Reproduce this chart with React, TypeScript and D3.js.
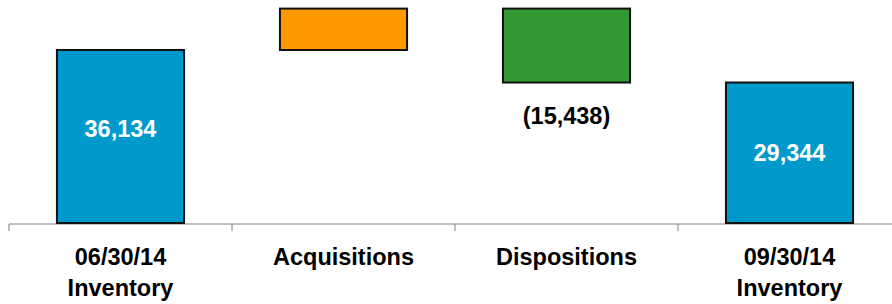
import React, { useEffect, useRef } from "react";
import * as d3 from "d3";

const categories = ["06/30/14|Inventory", "Acquisitions", "Dispositions", "09/30/14|Inventory"];
const values = [36134, 8648, -15438, 29344];
const kinds = ["total", "delta", "delta", "total"];
const valueLabels = ["36,134", "", "(15,438)", "29,344"];

const WIDTH = 892;
const HEIGHT = 304;

function drawWaterfall(svgEl: SVGSVGElement) {
    const svg = d3.select(svgEl);
    svg.selectAll("*").remove();

    const baseY = 223;
    const font = "'Liberation Sans', Arial, sans-serif";

    const x = d3.scaleBand<string>()
        .domain(categories)
        .range([9, 901])
        .padding(0);

    const y = d3.scaleLinear()
        .domain([0, 36134])
        .range([baseY, 50]);

    // running total for floating bars
    let running = 0;
    const bars = categories.map((c, i) => {
        let lo, hi;
        if (kinds[i] === "total") {
            lo = 0; hi = values[i]; running = values[i];
        } else {
            const next = running + values[i];
            lo = Math.min(running, next); hi = Math.max(running, next);
            running = next;
        }
        return { cat: c, lo, hi, i };
    });

    const colors = ["#0099cc", "#ff9900", "#339933", "#0099cc"];
    const barW = x.bandwidth() * 0.57;

    // axis line + ticks
    const axis = svg.append("g");
    axis.append("line")
        .attr("x1", 9).attr("x2", WIDTH)
        .attr("y1", baseY + 1).attr("y2", baseY + 1)
        .attr("stroke", "#808080").attr("stroke-width", 1);
    axis.selectAll(".tick")
        .data(categories)
        .enter().append("line")
        .attr("x1", d => x(d)!).attr("x2", d => x(d)!)
        .attr("y1", baseY + 1).attr("y2", baseY + 8)
        .attr("stroke", "#808080").attr("stroke-width", 1);

    svg.selectAll(".bar")
        .data(bars)
        .enter().append("rect")
        .attr("class", "bar")
        .attr("x", d => x(d.cat)! + (x.bandwidth() - barW) / 2)
        .attr("width", barW)
        .attr("y", d => y(d.hi))
        .attr("height", d => y(d.lo) - y(d.hi))
        .attr("fill", d => colors[d.i])
        .attr("stroke", "#111")
        .attr("stroke-width", 2);

    // value labels
    const labelDy = [-8, 0, 0, 0];
    svg.selectAll(".val")
        .data(bars)
        .enter().append("text")
        .attr("x", d => x(d.cat)! + x.bandwidth() / 2)
        .attr("y", d => kinds[d.i] === "total"
            ? (y(d.hi) + y(d.lo)) / 2 + labelDy[d.i]
            : y(d.lo) + 33)
        .attr("dy", "0.35em")
        .attr("text-anchor", "middle")
        .attr("font-family", font)
        .attr("font-weight", "bold")
        .attr("font-size", 23.5)
        .attr("fill", d => kinds[d.i] === "total" ? "#fff" : "#000")
        .text(d => valueLabels[d.i]);

    // category labels
    const cats = svg.selectAll(".cat")
        .data(categories)
        .enter().append("text")
        .attr("text-anchor", "middle")
        .attr("font-family", font)
        .attr("font-weight", "bold")
        .attr("font-size", 23.5)
        .attr("fill", "#000");
    cats.each(function (d) {
        const parts = d.split("|");
        const t = d3.select(this);
        parts.forEach((p, k) => {
            t.append("tspan")
                .attr("x", x(d)! + x.bandwidth() / 2)
                .attr("y", 265 + k * 31)
                .text(p);
        });
    });
}

export default function App() {
    const ref = useRef<SVGSVGElement>(null);
    useEffect(() => {
        if (ref.current) drawWaterfall(ref.current);
    }, []);
    return (
        <svg ref={ref} width={WIDTH} height={HEIGHT}
            style={{ position: "absolute", left: 0, top: 0, background: "#fff" }} />
    );
}
